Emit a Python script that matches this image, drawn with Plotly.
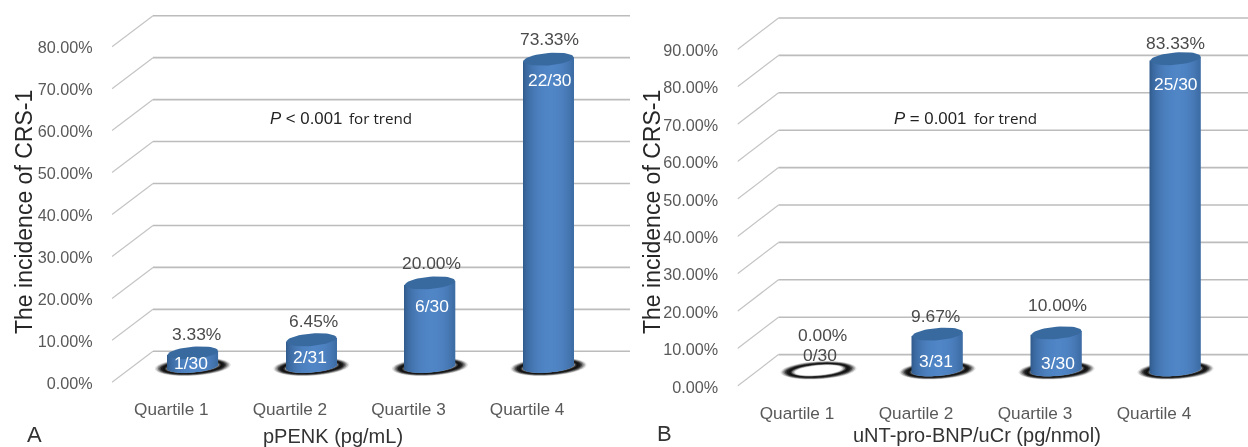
import math
import plotly.graph_objects as go

# ---- data ----
quartiles = ["Quartile 1", "Quartile 2", "Quartile 3", "Quartile 4"]

a_values = [3.33, 6.45, 20.00, 73.33]
a_counts = ["1/30", "2/31", "6/30", "22/30"]
a_ticks = [0, 10, 20, 30, 40, 50, 60, 70, 80]

b_values = [0.00, 9.67, 10.00, 83.33]
b_counts = ["0/30", "3/31", "3/30", "25/30"]
b_ticks = [0, 10, 20, 30, 40, 50, 60, 70, 80, 90]

W, H = 1248, 447

# ---- panel geometry (pixels) ----
PANELS = [
    dict(name="", values=a_values, counts=a_counts, ticks=a_ticks,
         x0=112, x1=630, cat=118.6, front0=382.3, back0=351.3, step=4.195,
         bottom=391,
         value_shift=[(4, 19), (2, 19), (1, 20), (1, 20)],
         count_shift=[(-2, -10), (-1, -17), (2, -23), (1, -21)],
         title="pPENK (pg/mL)", title_xy=(333, 436), letter="A", letter_xy=(34, 434),
         ytitle_xy=(24, 212),
         p_text="<i>P</i> < 0.001", p_xy=(267.5, 118), trend_xy=(414, 118)),
    dict(name="2", values=b_values, counts=b_counts, ticks=b_ticks,
         x0=737.5, x1=1248, cat=119.0, front0=386.0, back0=354.6, step=3.74,
         bottom=395,
         value_shift=[(4, 35), (-2, 18), (1, 28), (0, 16)],
         count_shift=[(1, 15), (-2, -27), (1, -30), (0, -25)],
         title="uNT-pro-BNP/uCr (pg/nmol)", title_xy=(977, 435), letter="B", letter_xy=(664, 433),
         ytitle_xy=(652, 212),
         p_text="<i>P</i> = 0.001", p_xy=(892, 118), trend_xy=(1039, 118)),
]

DEPTH_PX = 41.0          # horizontal run of the floor diagonal
BAR_SHIFT_PX = 1.0       # extra offset of cylinders from category centre
BAR_HALF_PX = 25.0       # cylinder half-width
ELL_B_PX = 5.6           # cylinder ellipse semi-minor
TILT_PX = 2.0            # rise of ellipse at its right end
N_STRIPS = 50
FONT = "Liberation Sans"

fig = go.Figure()
shapes, annotations = [], []


def ellipse_path(cx, cy, a, b, tilt, n=48):
    pts = []
    for k in range(n):
        t = 2 * math.pi * k / n
        pts.append((cx + a * math.cos(t), cy + b * math.sin(t) + tilt * math.cos(t)))
    return pts


def body_colour(u):
    # cylinder shading, u in -1..1 from left to right
    s = max(0.0, 1 - ((u - 0.1) / 1.1) ** 2) ** 0.7
    dark, light = (46, 88, 136), (80, 133, 198)
    return "rgb(%d,%d,%d)" % tuple(round(d + (l - d) * s) for d, l in zip(dark, light))


for p in PANELS:
    suffix = p["name"]
    xid, yid = "x" + suffix, "y" + suffix
    cat = p["cat"]
    step = p["step"]
    mid0 = (p["front0"] + p["back0"]) / 2           # pixel of value 0 at mid depth
    half_dv = (p["front0"] - p["back0"]) / 2 / step  # half floor depth in value units
    shift_cat = DEPTH_PX / 2 / cat                   # half floor depth in category units
    xr = [-0.5, (p["x1"] - p["x0"]) / cat - 0.5]
    yr = [(mid0 - p["bottom"]) / step, mid0 / step]
    back_right = xr[1]

    # walls and floor grid
    for v in p["ticks"]:
        f, b = v - half_dv, v + half_dv
        shapes.append(dict(type="line", xref=xid, yref=yid, layer="below",
                           x0=-0.5, y0=f, x1=-0.5 + 2 * shift_cat, y1=b,
                           line=dict(color="#c4c4c4", width=1.2)))
        shapes.append(dict(type="line", xref=xid, yref=yid, layer="below",
                           x0=-0.5 + 2 * shift_cat, y0=b, x1=back_right, y1=b,
                           line=dict(color="#bcbcbc", width=1.6)))

    for i, val in enumerate(p["values"]):
        cx = i + shift_cat + BAR_SHIFT_PX / cat

        def to_path(pts):
            return "M" + " L".join("%.4f,%.4f" % (cx + px / cat, py / step) for px, py in pts) + " Z"

        # floor shadow: blurred dark ring fading to white in its centre
        rings = [(38, 9.0, "#e4e4e4"), (36.5, 8.6, "#b4b4b4"), (35, 8.2, "#7c7c7c"),
                 (33.5, 7.7, "#444444"), (32, 7.2, "#1c1c1c"), (30, 6.7, "#111111"),
                 (28, 6.1, "#3a3a3a"), (26.5, 5.6, "#8a8a8a"), (25, 5.2, "#d0d0d0"), (23.5, 4.8, "#ffffff")]
        for a, b, col in rings:
            shapes.append(dict(type="path", xref=xid, yref=yid, layer="below",
                               path=to_path(ellipse_path(0, 0, a, b, 2.0)),
                               fillcolor=col, line=dict(width=0)))

        if val > 0:
            xs, ys, bases, cols = [], [], [], []
            for k in range(N_STRIPS):
                u = -1 + (2 * k + 1) / N_STRIPS
                low = (-ELL_B_PX * math.sqrt(1 - u * u) + TILT_PX * u) / step
                top = val + TILT_PX * u / step
                xs.append(cx + u * BAR_HALF_PX / cat)
                bases.append(low)
                ys.append(top - low)
                cols.append(body_colour(u))
            fig.add_trace(go.Bar(x=xs, y=ys, base=bases, xaxis=xid, yaxis=yid,
                                 width=2 * BAR_HALF_PX / N_STRIPS / cat * 1.6,
                                 marker=dict(color=cols, line=dict(width=0)),
                                 showlegend=False, hoverinfo="skip"))
            top_pts = ellipse_path(0, 0, BAR_HALF_PX, ELL_B_PX + 0.6, TILT_PX)
            top_pts.append(top_pts[0])
            fig.add_trace(go.Scatter(x=[cx + px / cat for px, _ in top_pts],
                                     y=[val + py / step for _, py in top_pts],
                                     xaxis=xid, yaxis=yid, mode="lines", fill="toself",
                                     fillcolor="#386a9f", line=dict(width=0, color="#386a9f"),
                                     showlegend=False, hoverinfo="skip"))

        vdx, vdy = p["value_shift"][i]
        annotations.append(dict(xref=xid, yref=yid, x=cx, y=val, xshift=vdx, yshift=vdy,
                                text="%.2f%%" % val, showarrow=False,
                                font=dict(family=FONT, size=17.4, color="#4a4a4a")))
        cdx, cdy = p["count_shift"][i]
        annotations.append(dict(xref=xid, yref=yid, x=cx, y=val, xshift=cdx, yshift=cdy,
                                text=p["counts"][i], showarrow=False,
                                font=dict(family=FONT, size=17.4,
                                          color="#ffffff" if val > 0 else "#4a4a4a")))

    axis_x = dict(domain=[p["x0"] / W, p["x1"] / W], range=xr, anchor=yid,
                  tickmode="array", tickvals=[0, 1, 2, 3], ticktext=quartiles,
                  ticks="outside", ticklen=2, tickcolor="rgba(0,0,0,0)",
                  showgrid=False, zeroline=False, showline=False,
                  tickfont=dict(family=FONT, size=17.2, color="#595959"))
    axis_y = dict(domain=[(H - p["bottom"]) / H, 1], range=yr, anchor=xid,
                  tickmode="array", tickvals=[v - half_dv - 1 / step for v in p["ticks"]],
                  ticktext=["%.2f%%" % v for v in p["ticks"]],
                  ticks="outside", ticklen=15, tickcolor="rgba(0,0,0,0)",
                  showgrid=False, zeroline=False, showline=False,
                  tickfont=dict(family=FONT, size=16.2, color="#595959"))
    fig.update_layout(**{"xaxis" + suffix: axis_x, "yaxis" + suffix: axis_y})

    def paper(xy):
        return dict(xref="paper", yref="paper", x=xy[0] / W, y=1 - xy[1] / H,
                    xanchor="center", yanchor="middle", showarrow=False)

    annotations.append(dict(paper(p["title_xy"]), text=p["title"],
                            font=dict(family=FONT, size=20, color="#333333")))
    annotations.append(dict(paper(p["letter_xy"]), text=p["letter"],
                            font=dict(family=FONT, size=22, color="#333333")))
    annotations.append(dict(paper(p["ytitle_xy"]), text="The incidence of CRS-1", textangle=-90,
                            font=dict(family=FONT, size=23, color="#262626")))
    annotations.append(dict(paper(p["p_xy"]), text=p["p_text"], xanchor="left",
                            font=dict(family=FONT, size=16.8, color="#222222")))
    annotations.append(dict(paper(p["trend_xy"]), text="for trend", xanchor="right",
                            font=dict(family="Open Sans", size=15.2, color="#222222")))

fig.update_layout(width=W, height=H, autosize=False,
                  margin=dict(l=0, r=0, t=0, b=0, pad=0),
                  paper_bgcolor="white", plot_bgcolor="rgba(0,0,0,0)",
                  barmode="overlay", showlegend=False,
                  shapes=shapes, annotations=annotations)

fig.write_html("out.html", config=dict(displayModeBar=False),
               post_script="document.body.style.margin='0';document.body.style.overflow='hidden';"
                           "document.querySelector('.plotly-graph-div').style.filter='blur(0.45px)';")
